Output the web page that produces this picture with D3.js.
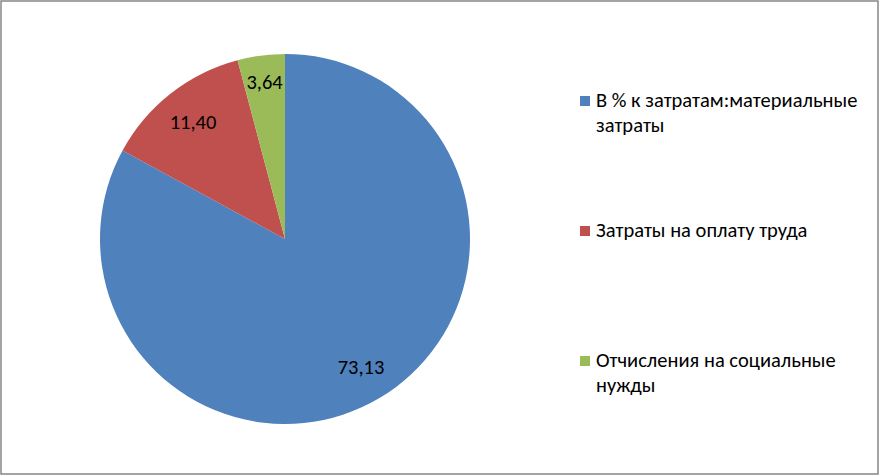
<!DOCTYPE html>
<html>
<head>
<meta charset="utf-8">
<script src="https://cdn.jsdelivr.net/npm/d3@7"></script>
<style>
  html, body { margin: 0; padding: 0; background: #fff; }
  svg { display: block; }
  text { font-family: Carlito, Calibri, Lato, "Liberation Sans", sans-serif; }
</style>
</head>
<body>
<svg id="chart" width="880" height="476"></svg>
<script>
const categories = [
  "В % к затратам:материальные затраты",
  "Затраты на оплату труда",
  "Отчисления на социальные нужды"
];
const legendLines = [
  ["В % к затратам:материальные", "затраты"],
  ["Затраты на оплату труда"],
  ["Отчисления на социальные", "нужды"]
];
const values = [73.13, 11.40, 3.64];
const valueLabels = ["73,13", "11,40", "3,64"];
const colors = ["#4F81BD", "#C0504D", "#9BBB59"];

const W = 880, H = 476;
const svg = d3.select("#chart");

svg.append("rect")
  .attr("x", 1).attr("y", 1)
  .attr("width", W - 3).attr("height", H - 3)
  .attr("fill", "#fff")
  .attr("stroke", "#868686")
  .attr("stroke-width", 1.5);

const cx = 285, cy = 239, R = 185;

const pie = d3.pie().sort(null).value(d => d)
  .startAngle(0).endAngle(2 * Math.PI);
const arcs = pie(values);
const arc = d3.arc().innerRadius(0).outerRadius(R);

const g = svg.append("g").attr("transform", `translate(${cx},${cy})`);
g.selectAll("path.slice")
  .data(arcs)
  .join("path")
  .attr("class", "slice")
  .attr("d", arc)
  .attr("fill", (d, i) => colors[i]);

const fs = 20.5;

g.selectAll("text.lbl")
  .data(arcs)
  .join("text")
  .attr("class", "lbl")
  .attr("transform", d => {
    const span = d.endAngle - d.startAngle;
    const rr = span < 0.5 ? R * 0.855 : R * 0.805;
    const a = d3.arc().innerRadius(rr).outerRadius(rr);
    const [x, y] = a.centroid(d);
    return `translate(${x},${y})`;
  })
  .attr("text-anchor", "middle")
  .attr("dy", "0.35em")
  .attr("font-size", fs)
  .attr("fill", "#000")
  .text((d, i) => valueLabels[i]);

// Legend
const legendY = d3.scalePoint().domain(d3.range(categories.length)).range([100, 360]);
const lineH = 25;
const lg = svg.append("g");
categories.forEach((c, i) => {
  const lines = legendLines[i];
  const yc = legendY(i);
  const item = lg.append("g");
  item.append("rect")
    .attr("x", 580).attr("y", yc - 4)
    .attr("width", 10).attr("height", 10)
    .attr("fill", colors[i]);
  lines.forEach((ln, j) => {
    item.append("text")
      .attr("x", 596)
      .attr("y", yc + 7 + j * lineH)
      .attr("font-size", fs)
      .attr("fill", "#000")
      .text(ln);
  });
});
</script>
</body>
</html>
